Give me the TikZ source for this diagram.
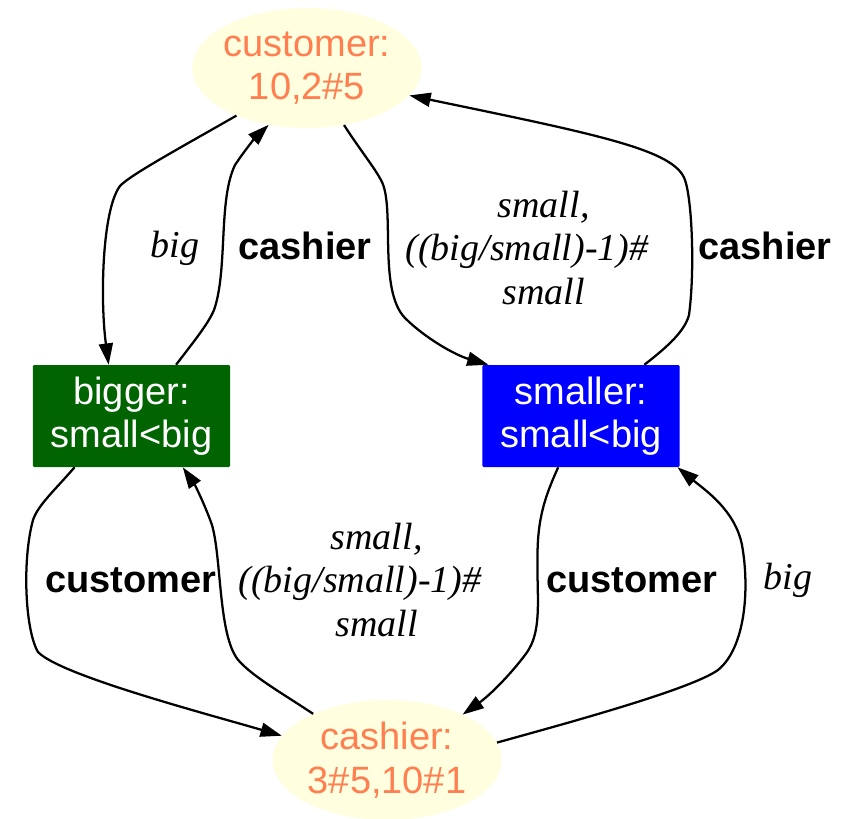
\documentclass[tikz,border=0pt]{standalone}
\usepackage{fontspec}
\setmainfont{Liberation Sans}
\newfontfamily\lblfont{Liberation Serif}
\usetikzlibrary{arrows.meta}
\usetikzlibrary{shapes.geometric}

\definecolor{stcoral}{RGB}{255,127,80}
\definecolor{stcream}{RGB}{255,255,224}
\definecolor{stgreen}{RGB}{0,100,0}
\definecolor{stblue}{RGB}{0,0,255}

\tikzset{
  big font/.style={font=\fontsize{28.5}{32.5}\selectfont},
  pool/.style={ellipse, fill=stcream, text=stcoral, big font, align=center,
    inner xsep=-4pt, inner ysep=0pt, minimum width=172pt, minimum height=90pt},
  cond/.style={rectangle, rounded corners=1pt, text=white, big font, align=center,
    minimum width=148pt, minimum height=76.5pt},
  edge/.style={line width=1.7pt, -{Triangle[length=16pt,width=10.5pt]}},
  var/.style={align=center, font=\lblfont\itshape\fontsize{28.5}{32.5}\selectfont},
  hand/.style={font=\bfseries\fontsize{28.5}{32.5}\selectfont}
}

\begin{document}
\begin{tikzpicture}[x=0.75pt, y=-0.75pt]

\useasboundingbox (0,0) rectangle (842,818);

%% Places %%
\node[pool] (customer) at (307,68) {customer:\\10,2\#5};
\node[pool] (cashier) at (387,760) {cashier:\\3\#5,10\#1};

%% Transitions %%
\node[cond, fill=stgreen] (bigger) at (131.5,416) {bigger:\\small<big};
\node[cond, fill=stblue] (smaller) at (581,416) {smaller:\\small<big};

%% Arcs %%
% upper left %
\draw[edge] (customer.-146) .. controls (180,148) and (130,175) .. (120,186)
  .. controls (102,210) and (100,300) .. (bigger.114);
\draw[edge] (bigger.49) .. controls (195,340) and (208,324) .. (214,310)
  .. controls (228,270) and (218,200) .. (235,165)
  .. controls (245,150) and (255,138) .. (customer.-124);

% upper right %
\draw[edge] (customer.-57) .. controls (360,150) and (375,168) .. (382,182)
  .. controls (395,210) and (378,290) .. (405,318)
  .. controls (425,338) and (455,355) .. (smaller.151);
\draw[edge] (smaller.39) .. controls (670,345) and (685,330) .. (689,315)
  .. controls (695,270) and (692,200) .. (685,180)
  .. controls (675,150) and (600,135) .. (customer.-15);

% lower left %
\draw[edge] (bigger.-138) .. controls (55,490) and (38,505) .. (33,520)
  .. controls (22,560) and (25,630) .. (38,652)
  .. controls (60,675) and (200,712) .. (cashier.167);
\draw[edge] (cashier.148) .. controls (285,695) and (255,678) .. (240,662)
  .. controls (218,640) and (222,560) .. (212,525)
  .. controls (205,505) and (195,485) .. (bigger.-45);

% lower right %
\draw[edge] (smaller.-114) .. controls (548,490) and (540,510) .. (538,540)
  .. controls (535,590) and (545,630) .. (525,655)
  .. controls (510,675) and (490,695) .. (cashier.31);
\draw[edge] (cashier.9) .. controls (560,725) and (690,690) .. (718,670)
  .. controls (745,648) and (750,590) .. (742,545)
  .. controls (735,510) and (705,490) .. (smaller.-28);

%% Labels %%
\node[var] (lbigup) at (175,248) {big};
\node[hand] (lcashl) at (305,246) {cashier};
\node[var] (lsmallup) at (527,248) {\hspace*{25pt}small,\\((big/small)-1)\#\\\hspace*{25pt}small};
\node[hand] (lcashr) at (765,246) {cashier};

\node[hand] (lcustl) at (131,580) {customer};
\node[var] (lsmalldn) at (360,580) {\hspace*{25pt}small,\\((big/small)-1)\#\\\hspace*{25pt}small};
\node[hand] (lcustr) at (632,580) {customer};
\node[var] (lbigdn) at (788,580) {big};

\end{tikzpicture}
\end{document}
